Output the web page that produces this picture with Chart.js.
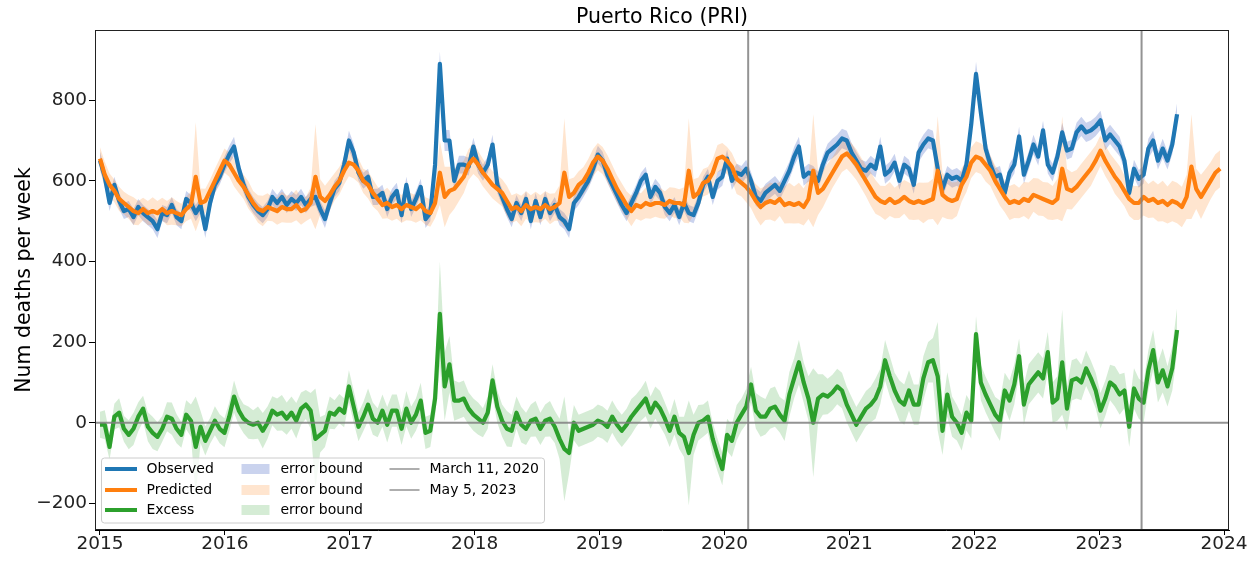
<!DOCTYPE html>
<html>
<head>
<meta charset="utf-8">
<title>Puerto Rico (PRI)</title>
<script src="https://cdn.jsdelivr.net/npm/chart.js@4.4.0/dist/chart.umd.min.js"></script>
<style>
  html, body { margin: 0; padding: 0; background: #fff; }
  #wrap { width: 1259px; height: 561px; }
</style>
</head>
<body>
<div id="wrap"><canvas id="excess" width="1259" height="561"></canvas></div>
<script>
const chartTitle = 'Puerto Rico (PRI)';
const yLabel = 'Num deaths per week';
const startYear = 2015;
const stepYears = 14 / 365.25; // one reading every two weeks
const xTicks = [2015, 2016, 2017, 2018, 2019, 2020, 2021, 2022, 2023, 2024];
const yTicks = [-200, 0, 200, 400, 600, 800];
const seriesNames = ['Observed', 'Predicted', 'Excess'];
const bandName = 'error bound';
const eventNames = ['March 11, 2020', 'May 5, 2023'];
const eventDates = [2020.19, 2023.34];

// one value per two weeks from the start of 2015
const observed = [
  650,610,545,590,550,525,530,510,535,520,510,500,480,520,515,540,510,500,555,545,520,540,480,545,590,610,
  640,665,685,630,590,560,540,525,515,530,560,545,560,540,555,545,560,540,555,560,530,505,545,580,595,640,
  700,670,620,600,610,560,560,570,530,560,575,515,590,530,555,585,505,520,640,890,700,700,600,640,640,635,
  685,640,620,640,690,590,560,530,505,545,520,555,500,550,510,555,520,540,510,500,480,545,560,580,600,630,
  665,650,615,590,565,540,520,545,570,600,615,560,585,570,535,520,540,510,545,520,515,545,590,610,560,600,
  610,655,600,620,615,630,600,560,550,570,580,590,575,600,625,660,685,610,620,615,600,640,670,680,690,705,
  700,670,650,630,625,640,630,685,615,625,645,600,640,630,590,670,690,705,700,630,580,615,605,610,600,640,
  740,865,770,680,640,610,615,570,620,640,710,615,650,690,660,725,640,620,660,720,675,680,720,735,720,725,
  735,750,700,715,700,685,650,570,630,605,615,680,700,650,680,650,690,765
];
const observedErr = [
  22,22,20,20,20,20,20,20,20,20,20,20,22,20,20,20,20,20,20,20,20,20,22,20,20,20,
  20,22,24,20,20,20,20,20,20,20,20,20,20,20,20,20,20,20,20,20,20,22,20,20,20,22,
  24,22,20,20,20,20,20,20,20,20,20,20,20,20,20,20,22,20,22,30,26,26,22,22,22,22,
  22,22,20,20,24,20,20,20,20,20,20,20,20,20,20,20,20,20,20,20,22,20,20,20,20,22,
  22,22,20,20,20,20,20,20,20,20,20,20,20,20,20,20,20,20,20,20,20,20,20,20,20,22,
  22,22,22,22,22,22,22,22,22,22,22,22,22,22,22,24,24,22,22,22,22,22,22,24,24,24,
  24,24,22,22,22,22,22,24,22,22,22,22,22,22,22,24,24,24,24,22,22,22,22,22,22,22,
  24,30,26,24,22,22,22,22,22,22,24,22,22,24,22,24,22,22,22,24,22,22,24,24,24,24,
  24,24,24,24,24,24,22,22,22,22,22,24,24,22,24,22,24,28
];
const predicted = [
  655,615,590,575,555,545,535,525,520,530,520,525,520,530,520,525,520,515,530,540,610,545,550,575,600,625,
  650,640,620,600,585,565,545,530,525,535,530,525,535,530,530,540,525,530,545,610,560,550,565,585,600,625,
  645,640,625,600,590,570,555,540,545,535,540,530,540,535,530,540,525,520,545,620,560,575,580,595,610,640,
  655,640,620,605,590,580,570,550,530,535,525,540,530,535,530,540,530,535,545,620,560,570,590,600,620,645,
  660,650,630,605,580,560,540,525,540,535,545,540,545,545,540,550,545,545,540,625,560,570,595,600,620,655,
  660,650,635,605,595,585,570,550,535,545,550,545,555,540,545,540,545,535,555,625,570,580,600,620,640,660,
  668,655,640,620,600,580,560,550,545,555,545,550,560,550,545,550,545,550,555,625,565,555,550,555,590,610,
  645,660,655,640,625,600,580,560,545,550,545,555,550,565,560,555,550,545,555,630,580,575,585,600,615,630,
  650,675,650,630,610,595,575,555,545,545,560,550,555,545,550,540,550,545,535,560,635,580,560,580,600,620,630
];
const predictedErr = [
  28,32,28,28,30,28,30,34,30,28,30,34,30,28,30,34,30,28,30,34,135,36,30,28,30,30,
  30,30,34,30,30,34,30,34,38,34,30,34,38,34,34,38,34,30,38,130,44,38,38,34,34,34,
  34,34,30,30,34,34,30,34,38,34,34,34,38,34,34,38,34,34,38,80,75,60,50,45,40,38,
  38,34,34,34,34,34,34,38,34,34,38,34,34,38,34,34,38,34,44,135,44,38,34,34,34,34,
  34,34,34,34,34,34,34,38,34,34,38,34,34,38,34,34,38,34,44,130,44,38,34,34,34,34,
  34,34,34,38,34,38,38,42,46,42,46,46,42,46,50,46,50,46,50,140,55,46,42,38,38,38,
  38,38,38,38,38,42,42,38,42,42,38,42,42,46,42,46,50,46,50,135,55,50,46,42,42,38,
  38,38,38,42,38,38,42,38,42,42,38,42,46,42,46,42,46,42,50,130,50,46,42,42,42,42,
  38,38,38,38,42,42,38,42,42,42,46,42,46,46,50,46,50,50,50,55,130,50,55,50,46,46,46
];
const excess = [
  -5,-5,-60,15,25,-15,-30,-15,15,35,-10,-25,-35,-15,15,10,-15,-30,20,5,-60,-10,-45,-20,5,-15,
  -25,15,65,30,10,0,-5,0,-20,0,30,20,25,10,25,5,35,45,30,-40,-30,-20,25,20,35,25,
  90,40,-10,15,45,10,0,30,-5,30,30,-15,35,0,20,55,-25,-20,60,270,90,145,55,55,60,35,
  20,10,0,25,105,40,5,-15,-20,25,-5,-15,5,10,-15,5,10,-10,-40,-65,-75,0,-20,-15,-10,-5,
  5,0,-10,15,-5,-20,-5,15,30,45,60,25,50,35,10,-20,15,-25,-35,-75,-30,0,5,15,-40,-80,
  -115,-30,-45,0,20,40,95,30,15,15,35,40,20,5,70,110,150,100,60,0,60,70,65,75,90,80,
  45,20,-5,15,35,45,60,90,155,115,80,55,45,80,45,45,110,150,155,115,-20,70,15,0,-25,25,
  5,220,100,70,45,20,5,80,55,95,165,45,95,110,125,110,175,50,60,150,35,105,110,100,135,110,
  80,30,60,100,90,70,80,-10,85,60,50,130,180,100,130,90,135,230
];
const excessErr = [
  32,36,32,32,36,32,36,40,36,32,36,40,36,32,36,40,36,32,36,40,125,40,36,32,36,36,
  36,36,40,36,36,40,36,40,44,40,36,40,44,40,40,44,40,36,44,125,44,40,40,36,36,36,
  40,40,36,36,40,40,36,40,44,40,40,40,44,40,40,44,40,40,44,130,85,70,50,45,45,40,
  40,40,36,40,40,40,40,44,40,40,44,40,40,44,40,40,44,40,50,130,50,44,40,40,40,40,
  40,40,40,40,40,40,40,44,40,40,44,40,40,44,40,40,44,40,50,130,50,44,40,40,40,40,
  40,40,40,44,40,44,44,44,50,44,50,50,44,50,55,50,55,50,55,135,60,50,44,44,44,44,
  44,44,44,44,44,44,50,44,50,50,44,50,50,50,50,50,55,50,55,135,60,55,50,44,44,44,
  44,44,44,44,44,44,50,44,50,50,44,50,50,50,50,50,50,50,55,130,55,50,50,44,44,44,
  44,44,44,44,50,50,44,50,50,50,50,50,50,50,55,50,55,55
];

const FONT = "'DejaVu Sans', sans-serif";
const lineColors = ['#1f77b4', '#ff7f0e', '#2ca02c'];
const bandColors = ['rgba(80,110,200,0.3)', 'rgba(255,127,14,0.2)', 'rgba(44,160,44,0.2)'];
const eventColor = 'rgba(128,128,128,0.85)';

function pts(values, err, sign) {
  return values.map((v, i) => ({ x: startYear + i * stepYears, y: err ? v + sign * err[i] : v }));
}

const series = [[observed, observedErr], [predicted, predictedErr], [excess, excessErr]];
const datasets = [];
series.forEach(([vals, err], k) => {
  datasets.push({ label: bandName + ' low', data: pts(vals, err, -1), borderWidth: 0, pointRadius: 0, fill: false, order: 10 - k });
  datasets.push({ label: bandName, data: pts(vals, err, 1), borderWidth: 0, pointRadius: 0,
    backgroundColor: bandColors[k], fill: '-1', order: 10 - k });
});
series.forEach(([vals], k) => {
  datasets.push({ label: seriesNames[k], data: pts(vals), borderColor: lineColors[k], borderWidth: 4.2,
    pointRadius: 0, fill: false, borderJoinStyle: 'round', order: 3 - k });
});

const overlay = {
  id: 'overlay',
  afterDatasetsDraw(chart) {
    const { ctx, chartArea: ca, scales: { x, y } } = chart;
    ctx.save();
    ctx.strokeStyle = eventColor;
    ctx.lineWidth = 2;
    const y0 = y.getPixelForValue(0);
    ctx.beginPath(); ctx.moveTo(ca.left, y0); ctx.lineTo(ca.right, y0); ctx.stroke();
    eventDates.forEach(d => {
      const px = x.getPixelForValue(d);
      ctx.beginPath(); ctx.moveTo(px, ca.top); ctx.lineTo(px, ca.bottom); ctx.stroke();
    });
    ctx.strokeStyle = '#222';
    ctx.lineWidth = 1;
    ctx.strokeRect(Math.round(ca.left) + 0.5, Math.round(ca.top) + 0.5,
      Math.round(ca.right - ca.left) - 1, Math.round(ca.bottom - ca.top) - 1);
    ctx.restore();
  },
  afterDraw(chart) {
    const { ctx, chartArea: ca } = chart;
    const bx = ca.left + 6.5, by = ca.bottom - 72, bw = 443, bh = 65;
    ctx.save();
    ctx.beginPath();
    ctx.roundRect(bx, by, bw, bh, 3);
    ctx.fillStyle = 'rgba(255,255,255,0.8)';
    ctx.fill();
    ctx.strokeStyle = '#cccccc';
    ctx.lineWidth = 1;
    ctx.stroke();
    ctx.font = '14px ' + FONT;
    ctx.textBaseline = 'middle';
    ctx.fillStyle = '#000';
    const rows = [by + 11, by + 32, by + 52];
    seriesNames.forEach((name, k) => {
      const ry = rows[k];
      ctx.strokeStyle = lineColors[k]; ctx.lineWidth = 4;
      ctx.beginPath(); ctx.moveTo(bx + 3.5, ry); ctx.lineTo(bx + 35.5, ry); ctx.stroke();
      ctx.fillStyle = '#000'; ctx.fillText(name, bx + 45, ry);
      ctx.fillStyle = bandColors[k];
      ctx.fillRect(bx + 140, ry - 5, 28, 10);
      ctx.fillStyle = '#000'; ctx.fillText(bandName, bx + 179, ry);
    });
    eventNames.forEach((name, k) => {
      const ry = rows[k];
      ctx.strokeStyle = eventColor; ctx.lineWidth = 1.5;
      ctx.beginPath(); ctx.moveTo(bx + 288, ry); ctx.lineTo(bx + 318, ry); ctx.stroke();
      ctx.fillStyle = '#000'; ctx.fillText(name, bx + 328, ry);
    });
    ctx.restore();
  }
};

new Chart(document.getElementById('excess'), {
  type: 'line',
  data: { datasets },
  options: {
    responsive: false,
    animation: false,
    devicePixelRatio: 1,
    events: [],
    layout: { padding: { top: 0, right: 30, bottom: 0, left: 0 } },
    plugins: {
      legend: { display: false },
      tooltip: { enabled: false },
      title: {
        display: true,
        text: chartTitle,
        fullSize: false,
        color: '#000',
        font: { family: FONT, size: 20.5, weight: 'normal', lineHeight: 1 },
        padding: { top: 7, bottom: 2.5 }
      }
    },
    scales: {
      x: {
        type: 'linear',
        min: 2014.96,
        max: 2024.04,
        afterFit: s => { s.height = 31; },
        afterBuildTicks: s => { s.ticks = xTicks.map(v => ({ value: v })); },
        grid: { display: true, drawOnChartArea: false, drawTicks: true, tickLength: 5, color: '#000' },
        border: { display: true, color: '#000' },
        ticks: { autoSkip: false, maxRotation: 0, padding: 0, color: '#222',
          font: { family: FONT, size: 18.5, lineHeight: 1 }, callback: v => String(v) }
      },
      y: {
        type: 'linear',
        min: -266,
        max: 974,
        afterFit: s => { s.width = 95; },
        afterBuildTicks: s => { s.ticks = yTicks.map(v => ({ value: v })); },
        grid: { display: true, drawOnChartArea: false, drawTicks: true, tickLength: 6, color: '#000' },
        border: { display: true, color: '#000' },
        title: { display: true, text: yLabel, color: '#000',
          font: { family: FONT, size: 20.5, lineHeight: 1.2 }, padding: { top: 12, bottom: 0 } },
        ticks: { padding: 2, color: '#222', font: { family: FONT, size: 18.5 },
          callback: v => (v < 0 ? '\u2212' + Math.abs(v) : String(v)) }
      }
    }
  },
  plugins: [overlay]
});
</script>
</body>
</html>
